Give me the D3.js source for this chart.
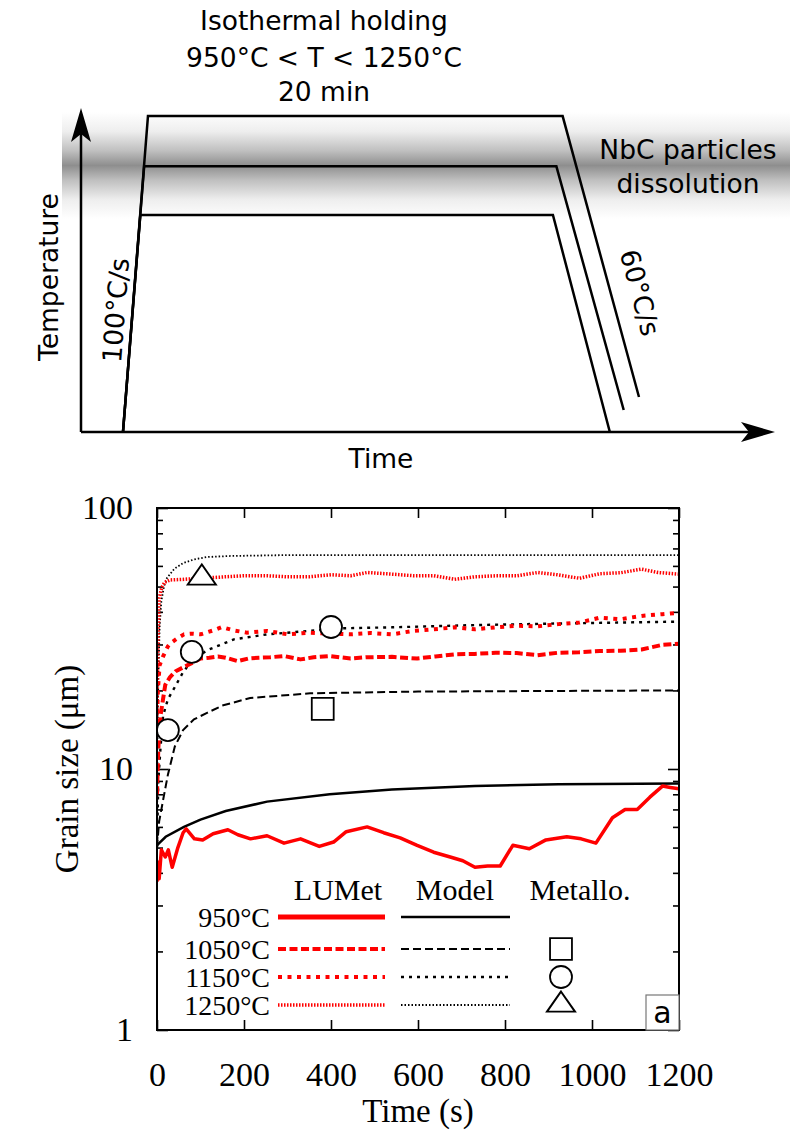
<!DOCTYPE html>
<html>
<head>
<meta charset="utf-8">
<script src="https://cdn.jsdelivr.net/npm/d3@7"></script>
<style>
  body { margin: 0; background: #fff; }
  svg text { fill: #000; }
</style>
</head>
<body>
<div id="chart"></div>
<script>
// ---- schematic thermal cycle (arbitrary time / temperature units) ----
const cycleProfiles = [
  [[6.05, 0], [8.55, 67], [68.0, 67], [76.2, 0]],
  [[6.05, 0], [9.1, 82], [68.5, 82], [78.2, 6.8]],
  [[6.05, 0], [9.65, 97.5], [69.4, 97.5], [80.4, 10.8]]
];
const dissolutionBand = [67, 97.5];

// ---- grain size vs time ----
const timeTicks = [0, 200, 400, 600, 800, 1000, 1200];
const sizeMajor = [1, 10, 100];
const sizeMinor = [2, 3, 4, 5, 6, 7, 8, 9, 20, 30, 40, 50, 60, 70, 80, 90];
const tempLabels = ["950°C", "1050°C", "1150°C", "1250°C"];

const lumet950 = [[0, 3.7], [2, 4.4], [5, 3.8], [10, 4.9], [19, 4.6], [26, 4.9], [35, 4.2], [48, 5.0],
  [60, 5.7], [67, 5.9], [86, 5.4], [105, 5.35], [129, 5.65], [163, 5.85], [186, 5.6], [215, 5.4],
  [253, 5.55], [292, 5.2], [330, 5.4], [373, 5.05], [406, 5.25], [435, 5.75], [483, 6.0], [521, 5.7],
  [559, 5.45], [598, 5.1], [636, 4.8], [674, 4.6], [703, 4.45], [731, 4.2], [760, 4.25], [789, 4.25],
  [818, 5.1], [856, 4.95], [894, 5.35], [942, 5.5], [975, 5.4], [1009, 5.2], [1047, 6.5], [1076, 7.0],
  [1104, 7.0], [1133, 7.8], [1162, 8.6], [1180, 8.5], [1200, 8.4]];
const lumet1050 = [[0, 8], [3, 12], [8, 16], [19, 21], [30, 22.5], [43, 23.7], [60, 24.5], [81, 25.5],
  [100, 26.5], [120, 26.7], [140, 27], [158, 26.7], [186, 25.9], [210, 26.5], [234, 26.7], [260, 26.8],
  [292, 27.1], [330, 26.3], [360, 26.8], [397, 27.1], [420, 26.8], [445, 26.5], [480, 26.8], [540, 26.9],
  [598, 26.5], [640, 27], [684, 27.5], [730, 27.6], [779, 27.9], [827, 27.8], [875, 27.3], [923, 27.9],
  [970, 28], [1018, 28.3], [1066, 28.4], [1114, 28.7], [1162, 29.9], [1200, 30.2]];
const lumet1150 = [[0, 15], [2, 20], [6, 25], [14, 27], [25, 29.5], [33, 30.5], [45, 31.5], [62, 32.8],
  [80, 33], [100, 32.8], [130, 34], [149, 35], [175, 34], [206, 33.3], [253, 33.8], [301, 32.8],
  [349, 33.3], [400, 33], [445, 32.8], [490, 33.2], [540, 32.8], [588, 33.8], [636, 34.3], [684, 34.9],
  [731, 34.3], [779, 34.9], [827, 35.4], [875, 35.2], [923, 35.9], [971, 36.4], [1018, 38], [1066, 37.5],
  [1114, 38.6], [1162, 39.2], [1200, 39.7]];
const lumet1250 = [[0, 16], [2, 30], [5, 45], [11, 49.6], [18, 52], [30, 53], [62, 53.3], [100, 53.8],
  [158, 54.5], [200, 55], [253, 55], [300, 54.5], [349, 54.5], [400, 55.5], [445, 55], [483, 56.6],
  [540, 55.8], [590, 55], [636, 55], [684, 53.3], [731, 54.5], [780, 55], [827, 55], [875, 56.6],
  [920, 55.5], [971, 53.8], [1018, 56], [1066, 56.5], [1114, 58.3], [1152, 56.6], [1200, 55.8]];

const model950 = [[0, 5.1], [5, 5.2], [20, 5.5], [62, 6.0], [100, 6.4], [158, 6.9], [253, 7.5], [397, 8.0],
  [540, 8.35], [731, 8.6], [923, 8.75], [1200, 8.8]];
const model1050 = [[0, 5], [5, 6.3], [14, 7.6], [25, 9.5], [41, 12.2], [60, 14.1], [85, 15.5], [115, 16.4],
  [150, 17.5], [214, 18.7], [352, 19.5], [600, 19.8], [900, 19.9], [1200, 20]];
const model1150 = [[0, 5], [3, 9], [8, 12], [14, 16], [25, 18.5], [41, 20.6], [60, 23.5], [80, 26],
  [115, 28.5], [177, 31.4], [253, 32.8], [349, 33.8], [426, 34.6], [540, 34.9], [731, 35.6], [923, 36.1],
  [1200, 36.7]];
const model1250 = [[0, 5], [1, 12], [3, 22], [6, 35], [10, 44], [16, 50], [23, 54], [40, 58.5], [60, 61.5],
  [85, 63.5], [115, 64.9], [170, 65.5], [300, 66], [600, 66], [1200, 66]];

const metallo1050 = [[381, 17.0]];
const metallo1150 = [[25, 14.1], [80, 28.1], [400, 35]];
const metallo1250 = [[103, 54]];

const W = 790, H = 1134;
const serif = "'Liberation Serif', 'Times New Roman', serif";
const svg = d3.select("#chart").append("svg")
  .attr("width", W).attr("height", H)
  .style("font-family", "'DejaVu Sans', sans-serif");

// ================= schematic =================
const xS = d3.scaleLinear().domain([0, 100]).range([81, 775]);
const yS = d3.scaleLinear().domain([0, 100]).range([432, 108]);

const grad = svg.append("defs").append("linearGradient")
  .attr("id", "band").attr("x1", 0).attr("y1", 0).attr("x2", 0).attr("y2", 1);
[[0, "#ffffff"], [0.18, "#eeeeee"], [0.36, "#c0c0c0"], [0.5, "#8e8e8e"], [0.64, "#c0c0c0"], [0.82, "#eeeeee"], [1, "#ffffff"]]
  .forEach(s => grad.append("stop").attr("offset", s[0]).attr("stop-color", s[1]));

svg.append("rect")
  .attr("x", 62).attr("width", W - 62)
  .attr("y", yS(dissolutionBand[1]) - 4).attr("height", yS(dissolutionBand[0]) - yS(dissolutionBand[1]) + 8)
  .attr("fill", "url(#band)");

const cycleLine = d3.line().x(d => xS(d[0])).y(d => yS(d[1]));
svg.selectAll(".cycle").data(cycleProfiles).enter().append("path")
  .attr("class", "cycle")
  .attr("d", cycleLine)
  .attr("fill", "none").attr("stroke", "#000").attr("stroke-width", 2.5)
  .attr("stroke-linejoin", "miter");

// axes with arrows
svg.append("line").attr("x1", xS(0)).attr("y1", yS(0)).attr("x2", xS(0)).attr("y2", yS(100) + 20)
  .attr("stroke", "#000").attr("stroke-width", 2.5);
svg.append("line").attr("x1", xS(0)).attr("y1", yS(0)).attr("x2", xS(100) - 20).attr("y2", yS(0))
  .attr("stroke", "#000").attr("stroke-width", 2.5);
svg.append("path")
  .attr("d", `M${xS(0)},${yS(100)} L${xS(0) + 10},${yS(100) + 34} L${xS(0)},${yS(100) + 26} L${xS(0) - 10},${yS(100) + 34} Z`)
  .attr("fill", "#000");
svg.append("path")
  .attr("d", `M${xS(100)},${yS(0)} L${xS(100) - 34},${yS(0) - 10} L${xS(100) - 26},${yS(0)} L${xS(100) - 34},${yS(0) + 10} Z`)
  .attr("fill", "#000");

const sTxt = (x, y, t, extra) => {
  const el = svg.append("text").attr("x", x).attr("y", y).attr("font-size", 26.5)
    .attr("text-anchor", "middle").text(t);
  if (extra) extra(el);
  return el;
};
sTxt(324, 30, "Isothermal holding");
sTxt(324, 67, "950°C < T < 1250°C");
sTxt(324, 101, "20 min");
sTxt(688, 159, "NbC particles");
sTxt(688, 193, "dissolution");
sTxt(381, 468, "Time");
sTxt(0, 0, "Temperature", el => el.attr("transform", "translate(58,277) rotate(-90)"));
sTxt(0, 0, "100°C/s", el => el.attr("transform", "translate(125,311) rotate(-85.5)"));
sTxt(0, 0, "60°C/s", el => el.attr("transform", "translate(631,295) rotate(75)"));

// ================= grain size plot =================
const m = { left: 157, right: 679, top: 508, bottom: 1030 };
const x = d3.scaleLinear().domain([0, 1200]).range([m.left, m.right]);
const y = d3.scaleLog().domain([1, 100]).range([m.bottom, m.top]);

const plot = svg.append("g").style("font-family", serif);

plot.append("clipPath").attr("id", "clip").append("rect")
  .attr("x", m.left).attr("y", m.top).attr("width", m.right - m.left).attr("height", m.bottom - m.top);

// axes: ticks point inward
function styleAxis(g) {
  g.attr("font-family", serif);
  g.select(".domain").remove();
  g.selectAll(".tick line").attr("stroke", "#000").attr("stroke-width", 1.6);
  g.selectAll(".tick text").attr("font-size", 34).attr("fill", "#000").style("font-family", serif);
}
plot.append("g").attr("transform", `translate(0,${m.bottom})`)
  .call(d3.axisBottom(x).tickValues(timeTicks).tickFormat(d3.format("d")).tickSizeInner(-10).tickSizeOuter(0).tickPadding(32))
  .call(styleAxis);
plot.append("g").attr("transform", `translate(0,${m.top})`)
  .call(d3.axisTop(x).tickValues(timeTicks).tickFormat("").tickSizeInner(-10).tickSizeOuter(0))
  .call(styleAxis);
plot.append("g").attr("transform", `translate(${m.left},0)`)
  .call(d3.axisLeft(y).tickValues(sizeMajor).tickFormat(d3.format("d")).tickSizeInner(-11).tickSizeOuter(0).tickPadding(24))
  .call(styleAxis);
plot.append("g").attr("transform", `translate(${m.left},0)`)
  .call(d3.axisLeft(y).tickValues(sizeMinor).tickFormat("").tickSizeInner(-6).tickSizeOuter(0))
  .call(styleAxis);
plot.append("g").attr("transform", `translate(${m.right},0)`)
  .call(d3.axisRight(y).tickValues(sizeMajor).tickFormat("").tickSizeInner(-11).tickSizeOuter(0))
  .call(styleAxis);
plot.append("g").attr("transform", `translate(${m.right},0)`)
  .call(d3.axisRight(y).tickValues(sizeMinor).tickFormat("").tickSizeInner(-6).tickSizeOuter(0))
  .call(styleAxis);

plot.append("text").attr("x", (m.left + m.right) / 2).attr("y", 1122)
  .attr("text-anchor", "middle").attr("font-size", 33).text("Time (s)");
plot.append("text").attr("transform", `translate(78,${(m.top + m.bottom) / 2}) rotate(-90)`)
  .attr("text-anchor", "middle").attr("font-size", 33).text("Grain size (μm)");

// series
const lumetStyles = [
  { w: 3.5, dash: null },
  { w: 4, dash: "8,3.5" },
  { w: 4, dash: "4,5.5" },
  { w: 3.5, dash: "1.5,1.5" }
];
const modelStyles = [
  { w: 2.5, dash: null },
  { w: 2, dash: "8,4" },
  { w: 2.4, dash: "3,5" },
  { w: 1.8, dash: "1.5,2" }
];
const lumetSeries = [lumet950, lumet1050, lumet1150, lumet1250];
const modelSeries = [model950, model1050, model1150, model1250];

const line = d3.line().x(d => x(d[0])).y(d => y(d[1]));
const curves = plot.append("g").attr("clip-path", "url(#clip)");

modelSeries.forEach((s, i) => {
  curves.append("path").attr("d", line(s)).attr("fill", "none")
    .attr("stroke", "#000").attr("stroke-width", modelStyles[i].w)
    .attr("stroke-dasharray", modelStyles[i].dash);
});
lumetSeries.forEach((s, i) => {
  curves.append("path").attr("d", line(s)).attr("fill", "none")
    .attr("stroke", "#ff0000").attr("stroke-width", lumetStyles[i].w)
    .attr("stroke-dasharray", lumetStyles[i].dash).attr("stroke-linejoin", "round");
});

// metallography markers
const sym = {
  square: d3.symbol().type(d3.symbolSquare).size(480),
  circle: d3.symbol().type(d3.symbolCircle).size(380),
  triangle: d3.symbol().type(d3.symbolTriangle).size(260)
};
const markerSets = [[metallo1050, "square"], [metallo1150, "circle"], [metallo1250, "triangle"]];
markerSets.forEach(([pts, kind]) => {
  plot.selectAll(null).data(pts).enter().append("path")
    .attr("d", sym[kind]())
    .attr("transform", d => `translate(${x(d[0])},${y(d[1])})` + (kind === "triangle" ? " scale(1.15,0.95)" : ""))
    .attr("fill", "#fff").attr("stroke", "#000").attr("stroke-width", 1.8);
});

// frame
plot.append("rect").attr("x", m.left).attr("y", m.top)
  .attr("width", m.right - m.left).attr("height", m.bottom - m.top)
  .attr("fill", "none").attr("stroke", "#000").attr("stroke-width", 2);

// legend
const lg = plot.append("g");
const rowY = [917, 949, 977, 1005];
lg.append("text").attr("x", 338).attr("y", 900).attr("text-anchor", "middle").attr("font-size", 30).text("LUMet");
lg.append("text").attr("x", 455).attr("y", 900).attr("text-anchor", "middle").attr("font-size", 30).text("Model");
lg.append("text").attr("x", 580).attr("y", 900).attr("text-anchor", "middle").attr("font-size", 30).text("Metallo.");
tempLabels.forEach((t, i) => {
  lg.append("text").attr("x", 270).attr("y", rowY[i] + 10).attr("text-anchor", "end")
    .attr("font-size", 28).text(t);
  lg.append("line").attr("x1", 278).attr("x2", 385).attr("y1", rowY[i]).attr("y2", rowY[i])
    .attr("stroke", "#ff0000").attr("stroke-width", i === 0 ? 5 : lumetStyles[i].w)
    .attr("stroke-dasharray", lumetStyles[i].dash);
  lg.append("line").attr("x1", 401).attr("x2", 510).attr("y1", rowY[i]).attr("y2", rowY[i])
    .attr("stroke", "#000").attr("stroke-width", modelStyles[i].w)
    .attr("stroke-dasharray", modelStyles[i].dash);
});
["square", "circle", "triangle"].forEach((k, i) => {
  lg.append("path").attr("d", sym[k]())
    .attr("transform", `translate(561,${rowY[i + 1]})` + (k === "triangle" ? " scale(1.15,0.95)" : ""))
    .attr("fill", "#fff").attr("stroke", "#000").attr("stroke-width", 1.8);
});

// panel label
plot.append("rect").attr("x", 646).attr("y", 995).attr("width", 33).attr("height", 35)
  .attr("fill", "#fff").attr("stroke", "#777").attr("stroke-width", 1.2);
plot.append("text").attr("x", 662.5).attr("y", 1023).attr("text-anchor", "middle")
  .attr("font-size", 30).style("font-family", "'DejaVu Sans', sans-serif").text("a");
</script>
</body>
</html>
